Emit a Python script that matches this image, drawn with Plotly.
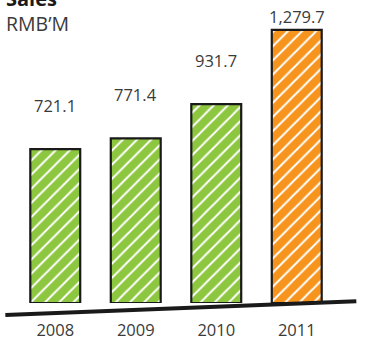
import plotly.graph_objects as go

years = ["2008", "2009", "2010", "2011"]
sales = [721.1, 771.4, 931.7, 1279.7]
labels = ["721.1", "771.4", "931.7", "1,279.7"]
colors = ["#8DC63F", "#8DC63F", "#8DC63F", "#F7941D"]
label_shift = [30, 30, 30, 0]

fig = go.Figure()
fig.add_trace(go.Bar(
    x=years, y=sales, width=0.62,
    marker=dict(color=colors,
                line=dict(color="#1a1a1a", width=2.2),
                pattern=dict(shape="/", fgcolor=colors, bgcolor="#ffffff",
                             fgopacity=1, size=10, solidity=0.8, fillmode="replace")),
    hoverinfo="skip",
))

for i, (y, t, s) in enumerate(zip(sales, labels, label_shift)):
    fig.add_annotation(x=i, y=y, text=t, showarrow=False, yanchor="bottom",
                       yshift=s, font=dict(size=16.5, color="#3a3a3a", family="Open Sans"))

# rough baseline
fig.add_shape(type="line", xref="paper", yref="paper", x0=-0.03, x1=1.06, y0=-0.04, y1=0.006,
              line=dict(color="#1a1a1a", width=4), layer="above")

fig.add_annotation(xref="paper", yref="paper", x=-0.035, y=1, xanchor="left", yanchor="bottom",
                   yshift=-14, text="<b>Sales</b>", showarrow=False,
                   font=dict(size=20, color="#1a1a1a", family="Open Sans"))
fig.add_annotation(xref="paper", yref="paper", x=-0.035, y=1, xanchor="left", yanchor="top",
                   yshift=-8, text="RMB\u2019M", showarrow=False,
                   font=dict(size=19.5, color="#3a3a3a", family="Open Sans"))

fig.update_layout(
    width=367, height=341,
    margin=dict(l=15, r=30, t=0, b=36),
    paper_bgcolor="white", plot_bgcolor="white",
    showlegend=False,
    xaxis=dict(type="category", range=[-0.5, 3.5], showgrid=False, zeroline=False,
               showline=False, ticks="", ticklabelstandoff=15,
               tickfont=dict(size=16.5, color="#3a3a3a", family="Open Sans")),
    yaxis=dict(range=[0, 1420], visible=False, showgrid=False, zeroline=False),
)

fig.write_html("out.html")
